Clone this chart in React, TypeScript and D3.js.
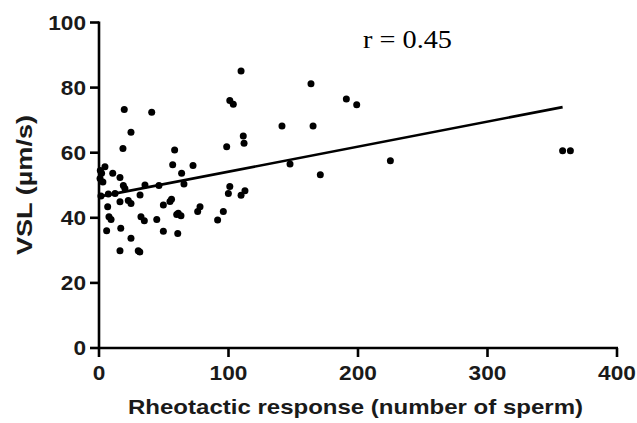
import React from "react";
import * as d3 from "d3";

const xValues = [109.7, 101, 103.7, 19.5, 40.7, 24.7, 111.4, 112, 98.6, 18.5, 58.4, 56.9, 72.6, 63.8, 4.6, 2, 10.6, 16.2, 0.8, 18.8, 35.5, 46.3, 65.6, 101, 112.7, 99.9, 109.7, 163.7, 191, 199, 141.3, 165.3, 147.5, 225, 170.9, 358, 364, 1.5, 7.2, 12.4, 20, 31.7, 16.2, 22.6, 24.7, 56, 54.8, 49.7, 6.7, 7.7, 9.3, 32.4, 35, 44.6, 5.9, 16.8, 49.7, 24.7, 16.2, 30.3, 31.5, 61.2, 63.3, 60, 78, 76.2, 96, 91.6, 60.8, 1, 3];
const yValues = [85.1, 76, 74.9, 73.3, 72.4, 66.3, 65.1, 62.9, 61.8, 61.3, 60.8, 56.3, 56.1, 53.7, 55.7, 53.7, 53.7, 52.4, 52.1, 49.9, 50.1, 49.9, 50.4, 49.6, 48.3, 47.5, 46.9, 81.2, 76.5, 74.7, 68.2, 68.2, 56.5, 57.5, 53.2, 60.6, 60.6, 46.7, 47.3, 47.5, 49, 47, 44.9, 45.3, 44.4, 45.7, 45.0, 43.9, 43.4, 40.3, 39.5, 40.3, 39.1, 39.5, 36, 36.8, 35.9, 33.7, 29.9, 29.9, 29.5, 41.4, 40.6, 41, 43.4, 41.9, 41.9, 39.3, 35.2, 54.5, 51];

const fitX = [0, 358];
const fitY = [46.5, 74];

const xTicks = [0, 100, 200, 300, 400];
const yTicks = [0, 20, 40, 60, 80, 100];

const xTitle = "Rheotactic response (number of sperm)";
const yTitle = "VSL (µm/s)";
const annotation = "r = 0.45";

export default function App() {
  const W = 637, H = 423;
  const x = d3.scaleLinear().domain([0, 400]).range([99, 617]);
  const y = d3.scaleLinear().domain([0, 100]).range([348, 22.5]);
  const line = d3.line<number>().x((d) => x(fitX[d])).y((d) => y(fitY[d]));
  const font = "'Liberation Sans', Arial, Helvetica, sans-serif";
  const digitW = 12.6;
  return (
    <svg width={W} height={H} style={{ position: "absolute", left: 0, top: 0, background: "#fff" }}>
      {/* axes */}
      <line x1={x(0)} x2={x(0)} y1={y(100) - 1} y2={y(0) + 1} stroke="#000" strokeWidth={2.6} />
      <line x1={x(0) - 1} x2={x(400) + 1} y1={y(0)} y2={y(0)} stroke="#000" strokeWidth={2.6} />
      {yTicks.map((t) => (
        <g key={"y" + t}>
          <line x1={x(0) - 9} x2={x(0)} y1={y(t)} y2={y(t)} stroke="#000" strokeWidth={2.6} />
          <text x={86} y={y(t)} dy="0.36em" textAnchor="end" fontFamily={font} fontWeight="bold" fontSize={20} fill="#1a1a1a" textLength={String(t).length * digitW} lengthAdjust="spacingAndGlyphs">{t}</text>
        </g>
      ))}
      {xTicks.map((t) => (
        <g key={"x" + t}>
          <line x1={x(t)} x2={x(t)} y1={y(0)} y2={y(0) + 9} stroke="#000" strokeWidth={2.6} />
          <text x={x(t)} y={380} textAnchor="middle" fontFamily={font} fontWeight="bold" fontSize={20} fill="#1a1a1a" textLength={String(t).length * digitW} lengthAdjust="spacingAndGlyphs">{t}</text>
        </g>
      ))}
      <text x={355.5} y={414} textAnchor="middle" fontFamily={font} fontWeight="bold" fontSize={21} fill="#1a1a1a" textLength={455} lengthAdjust="spacingAndGlyphs">{xTitle}</text>
      <text transform={`translate(32,${185}) rotate(-90)`} textAnchor="middle" fontFamily={font} fontWeight="bold" fontSize={22} fill="#1a1a1a" textLength={140} lengthAdjust="spacingAndGlyphs">{yTitle}</text>
      <text x={363} y={48} fontFamily="'Liberation Serif', 'Times New Roman', serif" fontSize={25} fill="#000" textLength={89} lengthAdjust="spacingAndGlyphs">{annotation}</text>
      {/* fit line */}
      <path d={line([0, 1]) || ""} stroke="#000" strokeWidth={2.6} fill="none" />
      {/* points */}
      {xValues.map((v, i) => (
        <circle key={i} cx={x(v)} cy={y(yValues[i])} r={3.5} fill="#000" />
      ))}
    </svg>
  );
}
